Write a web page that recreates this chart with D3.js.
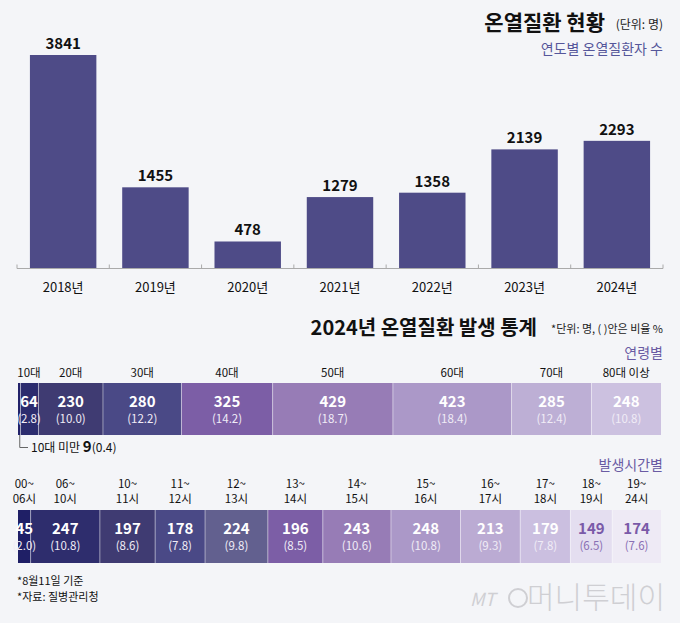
<!DOCTYPE html>
<html><head><meta charset="utf-8">
<script src="https://cdn.jsdelivr.net/npm/d3@7"></script>
<style>
html,body{margin:0;padding:0;background:#f4f5f8;}
svg{display:block;font-family:"Noto Sans CJK KR","Noto Sans",sans-serif;}
</style></head><body>
<script>
// ---- Data ----
const years = ["2018년","2019년","2020년","2021년","2022년","2023년","2024년"];
const yearValues = [3841,1455,478,1279,1358,2139,2293];

const ageLabels = ["10대 미만","10대","20대","30대","40대","50대","60대","70대","80대 이상"];
const ageValues = [9,64,230,280,325,429,423,285,248];
const agePct = ["0.4","2.8","10.0","12.2","14.2","18.7","18.4","12.4","10.8"];

const timeLabels = [["00~","06시"],["06~","10시"],["10~","11시"],["11~","12시"],["12~","13시"],["13~","14시"],["14~","15시"],["15~","16시"],["16~","17시"],["17~","18시"],["18~","19시"],["19~","24시"]];
const timeValues = [45,247,197,178,224,196,243,248,213,179,149,174];
const timePct = ["2.0","10.8","8.6","7.8","9.8","8.5","10.6","10.8","9.3","7.8","6.5","7.6"];

const ageColors = ["#22226a","#2c2c6e","#3f3b72","#4a4986","#7c5ea6","#977cb6","#ab98c8","#bdafd5","#ccc1e0"];
const timeColors = ["#1f1f66","#2e2d6d","#3f3b72","#4a4986","#62608f","#7c5ea6","#977cb6","#ab98c8","#bbabd3","#cbbfe0","#e4def0","#eeeaf5"];

const W = 680, H = 623;
const svg = d3.select("body").append("svg").attr("width",W).attr("height",H);
svg.append("rect").attr("width",W).attr("height",H).attr("fill","#f4f5f8");

// ---- Titles ----
svg.append("text").attr("x",605).attr("y",30).attr("text-anchor","end")
  .attr("font-size",21).attr("font-weight",700).attr("fill","#111").text("온열질환 현황");
svg.append("text").attr("x",663).attr("y",29).attr("text-anchor","end").attr("font-size",12).attr("fill","#222").text("(단위: 명)");
svg.append("text").attr("x",663).attr("y",54).attr("text-anchor","end")
  .attr("font-size",14).attr("fill","#55569a").text("연도별 온열질환자 수");

// ---- Bar chart ----
const x = d3.scaleBand().domain(years).range([17,663]).paddingInner(0.28).paddingOuter(0.14);
const y = d3.scaleLinear().domain([0,3841]).range([268,55]);
const bars = svg.append("g");
bars.selectAll("rect").data(years).join("rect")
  .attr("x",d=>x(d)).attr("width",x.bandwidth())
  .attr("y",(d,i)=>y(yearValues[i])).attr("height",(d,i)=>y(0)-y(yearValues[i]))
  .attr("fill","#4e4b87");
bars.selectAll("text.v").data(years).join("text").attr("class","v")
  .attr("x",d=>x(d)+x.bandwidth()/2).attr("y",(d,i)=>y(yearValues[i])-6)
  .attr("text-anchor","middle").attr("font-size",15).attr("font-weight",700).attr("fill","#111")
  .text((d,i)=>yearValues[i]);
// axis
const axisY = 268.5;
svg.append("line").attr("x1",17).attr("x2",663).attr("y1",axisY).attr("y2",axisY)
  .attr("stroke","#aaaaaa").attr("stroke-width",1);
const step = x.step();
const bounds = d3.range(years.length+1).map(i=>17+i*step);
svg.selectAll("line.tk").data(bounds).join("line").attr("class","tk")
  .attr("x1",d=>d).attr("x2",d=>d).attr("y1",axisY-4).attr("y2",axisY)
  .attr("stroke","#aaaaaa");
svg.selectAll("text.yr").data(years).join("text").attr("class","yr")
  .attr("x",d=>x(d)+x.bandwidth()/2).attr("y",292).attr("text-anchor","middle")
  .attr("font-size",13).attr("fill","#111").text(d=>d);

// ---- Second section titles ----
svg.append("text").attr("x",537).attr("y",335).attr("text-anchor","end")
  .attr("font-size",20).attr("font-weight",700).attr("fill","#111").text("2024년 온열질환 발생 통계");
svg.append("text").attr("x",663).attr("y",333).attr("text-anchor","end")
  .attr("font-size",11).attr("fill","#222").text("*단위: 명, ( )안은 비율 %");
svg.append("text").attr("x",663).attr("y",358).attr("text-anchor","end")
  .attr("font-size",14).attr("fill","#6a5ba3").text("연령별");
svg.append("text").attr("x",663).attr("y",470).attr("text-anchor","end")
  .attr("font-size",14).attr("fill","#6a5ba3").text("발생시간별");

// ---- stacked rows ----
function stackRow(values, top, bottom, colors){
  const total = d3.sum(values);
  const sx = d3.scaleLinear().domain([0,total]).range([18,661]);
  let acc = 0;
  const segs = values.map((v,i)=>{const s={i,v,x0:sx(acc),x1:sx(acc+v)}; acc+=v; return s;});
  const g = svg.append("g");
  g.selectAll("rect").data(segs).join("rect")
    .attr("x",d=>d.x0).attr("width",d=>d.x1-d.x0).attr("y",top).attr("height",bottom-top)
    .attr("fill",d=>colors[d.i]);
  g.selectAll("line").data(segs.slice(1)).join("line")
    .attr("x1",d=>d.x0).attr("x2",d=>d.x0).attr("y1",top).attr("y2",bottom)
    .attr("stroke","#ffffff").attr("stroke-opacity",0.45).attr("stroke-width",1);
  return segs;
}

// Age row
const ageTop=383, ageBot=435;
const ageSegs = stackRow(ageValues, ageTop, ageBot, ageColors);
const ageShown = ageSegs.slice(1);
const ageCx = d => d.i===1 ? 29 : (d.x0+d.x1)/2;
svg.selectAll("text.al").data(ageShown).join("text").attr("class","al")
  .attr("x",ageCx).attr("y",377).attr("text-anchor","middle")
  .attr("font-size",11.5).attr("fill","#111").text(d=>ageLabels[d.i]);
svg.selectAll("text.av").data(ageShown).join("text").attr("class","av")
  .attr("x",ageCx).attr("y",407).attr("text-anchor","middle")
  .attr("font-size",15).attr("font-weight",700).attr("fill","#fff").text(d=>ageValues[d.i]);
svg.selectAll("text.ap").data(ageShown).join("text").attr("class","ap")
  .attr("x",ageCx).attr("y",423).attr("text-anchor","middle")
  .attr("font-size",11.5).attr("fill","#f0ecf6").text(d=>"("+agePct[d.i]+")");
// under-10 callout
const u = ageSegs[0];
svg.append("path").attr("d",`M${(u.x0+u.x1)/2+0.5},${ageBot} V447.5 H28`)
  .attr("fill","none").attr("stroke","#666").attr("stroke-width",1);
const ct = svg.append("text").attr("x",31).attr("y",452).attr("fill","#111").attr("font-size",12);
ct.append("tspan").text(ageLabels[0]+" ");
ct.append("tspan").attr("font-weight",700).attr("font-size",15).text(ageValues[0]);
ct.append("tspan").text("("+agePct[0]+")");

// Time row
const tTop=510, tBot=563;
const tSegs = stackRow(timeValues, tTop, tBot, timeColors);
const tc = d => (d.x0+d.x1)/2;
svg.selectAll("text.tl1").data(tSegs).join("text").attr("class","tl1")
  .attr("x",tc).attr("y",488).attr("text-anchor","middle").attr("font-size",11.5).attr("fill","#111")
  .text(d=>timeLabels[d.i][0]);
svg.selectAll("text.tl2").data(tSegs).join("text").attr("class","tl2")
  .attr("x",tc).attr("y",503).attr("text-anchor","middle").attr("font-size",11.5).attr("fill","#111")
  .text(d=>timeLabels[d.i][1]);
const valColor = d => d.i>=10 ? "#7a5aa8" : "#ffffff";
svg.selectAll("text.tv").data(tSegs).join("text").attr("class","tv")
  .attr("x",tc).attr("y",534).attr("text-anchor","middle")
  .attr("font-size",15).attr("font-weight",700).attr("fill",valColor).text(d=>timeValues[d.i]);
svg.selectAll("text.tp").data(tSegs).join("text").attr("class","tp")
  .attr("x",tc).attr("y",550).attr("text-anchor","middle")
  .attr("font-size",11.5).attr("fill",d=>d.i>=10?"#8a70b4":"#f0ecf6").text(d=>"("+timePct[d.i]+")");

// ---- Footer ----
svg.append("text").attr("x",17).attr("y",585).attr("font-size",11).attr("fill","#111").text("*8월11일 기준");
svg.append("text").attr("x",17).attr("y",601).attr("font-size",11).attr("fill","#111").text("*자료: 질병관리청");
svg.append("text").attr("x",470).attr("y",606).attr("font-size",18).attr("font-style","italic")
  .attr("fill","#cfcfd3").text("MT");
svg.append("circle").attr("cx",518).attr("cy",598).attr("r",9).attr("fill","none")
  .attr("stroke","#cfcfd3").attr("stroke-width",2);
svg.append("text").attr("x",665).attr("y",608).attr("text-anchor","end").attr("font-size",30)
  .attr("font-weight",300).attr("fill","#cfcfd3").text("머니투데이");
</script>
</body></html>
